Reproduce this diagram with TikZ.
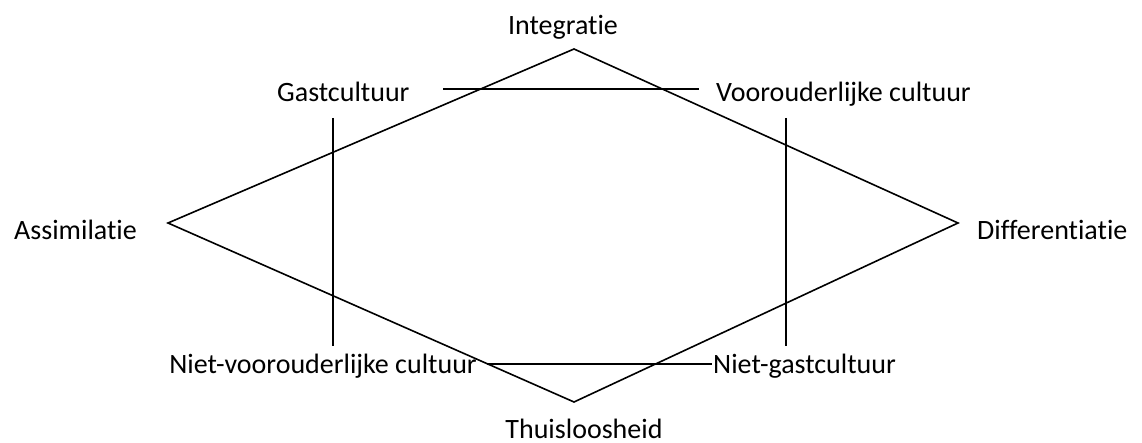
\documentclass[tikz,border=0pt]{standalone}
\usepackage{fontspec}
\setmainfont{Carlito}[Ligatures={NoCommon,NoRequired,NoContextual}]
\begin{document}
\begin{tikzpicture}[x=1pt,y=-1pt,
  lbl/.style={inner sep=0pt,font=\fontsize{28}{30}\selectfont},
  ln/.style={line width=1.6pt,line join=miter}]
\useasboundingbox (0,0) rectangle (1142,443);
% diamond vertices
\coordinate (T) at (574,49);
\coordinate (L) at (168,223);
\coordinate (R) at (958,223);
\coordinate (B) at (574,402);
\draw[ln] (T) -- (R) -- (B) -- (L) -- cycle;
% labels
\node[lbl,anchor=base] (int) at (563,35) {Integratie};
\node[lbl,anchor=base west] (gast) at (277,102) {Gastcultuur};
\node[lbl,anchor=base west] (voor) at (716,102) {Voorouderlijke cultuur};
\node[lbl,anchor=base west] (ass) at (14,240) {Assimilatie};
\node[lbl,anchor=base west] (dif) at (977,240) {Differentiatie};
\node[lbl,anchor=base east] (nvc) at (477,373) {Niet-voorouderlijke cultuur};
\node[lbl,anchor=base west] (ngc) at (713,373) {Niet-gastcultuur};
\node[lbl,anchor=base] (thu) at (584,438) {Thuisloosheid};
% axis lines
\coordinate (t1) at (443,89);
\coordinate (t2) at (699,89);
\draw[ln] (t1) -- (t2);
\coordinate (b1) at (487,364);
\coordinate (b2) at (712,364);
\draw[ln] (b1) -- (b2);
\coordinate (v1) at (333,118);
\coordinate (v2) at (333,346);
\draw[ln] (v1) -- (v2);
\coordinate (w1) at (786,118);
\coordinate (w2) at (786,346);
\draw[ln] (w1) -- (w2);
\end{tikzpicture}
\end{document}
